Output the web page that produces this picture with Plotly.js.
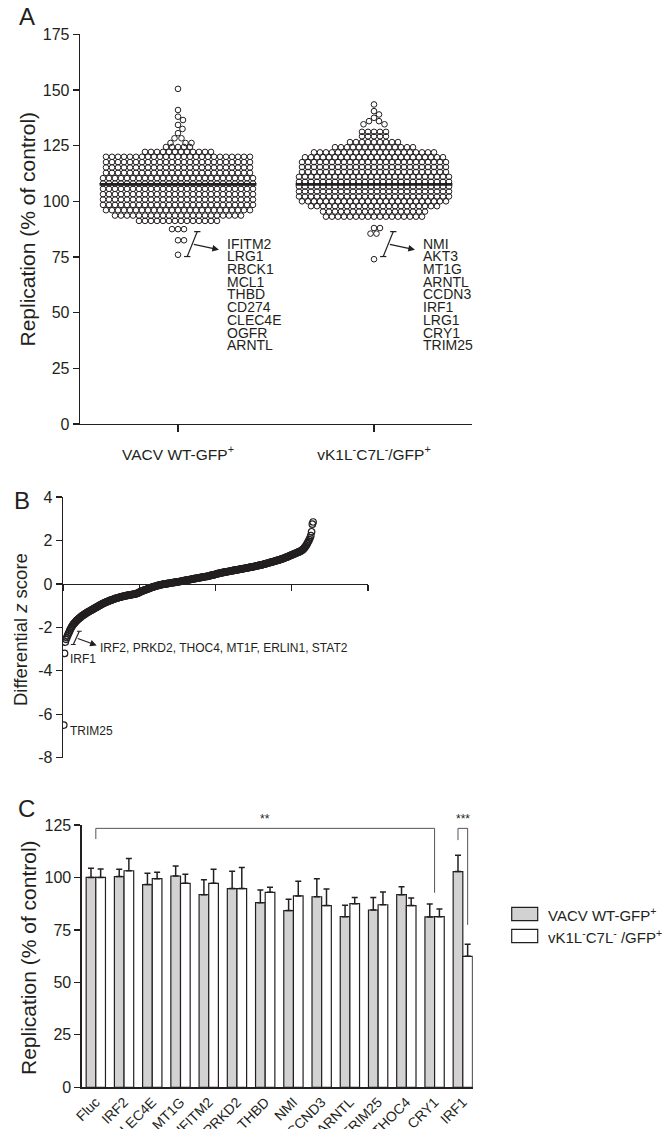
<!DOCTYPE html>
<html><head><meta charset="utf-8">
<script src="https://cdn.plot.ly/plotly-3.0.1.min.js"></script>
<style>html,body{margin:0;padding:0;background:#fff}#chart{width:668px;height:1129px}</style>
</head><body><div id="chart"></div>
<script>
const W = 668, H = 1129;
const FONT = 'Liberation Sans, Arial, Helvetica, sans-serif';
const INK = '#231f20';

// ---------- Panel A data ----------
const groupLabels = ['VACV WT-GFP<sup>+</sup>', 'vK1L<sup>-</sup>C7L<sup>-</sup>/GFP<sup>+</sup>'];
const wtRowValues = [150.5,141,138,136.5,134.3,132.5,130.6,128.3,126.2,124.4,122.2,120,117.6,115.2,112.8,110.4,108,105.6,103.2,100.8,98.4,96,93.6,91.2,87.5,82.5,76];
const wtRowCounts = [1,1,1,1,1,1,1,2,3,5,12,25,25,25,25,26,26,26,26,26,26,25,22,14,3,2,1];
const koRowValues = [143.5,140.5,139,137.5,136,134.6,131.2,129.2,126.6,124.3,122,119.8,117.6,115.4,113.2,111,108.8,106.6,104.4,102.2,100,97.8,95.4,93.1,88,85.5,74];
const koRowCounts = [1,1,1,1,2,2,5,5,9,14,21,24,25,25,25,26,26,26,26,26,25,22,18,17,2,2,1];
const groupMeans = [107.6, 107.6];
const wtHits = ['IFITM2','LRG1','RBCK1','MCL1','THBD','CD274','CLEC4E','OGFR','ARNTL'];
const koHits = ['NMI','AKT3','MT1G','ARNTL','CCDN3','IRF1','LRG1','CRY1','TRIM25'];

// ---------- Panel B data ----------
const zScores = [
-6.50,-3.20,-2.68,-2.55,-2.47,-2.38,-2.30,-2.22,-2.14,-2.07,
-2.00,-1.94,-1.89,-1.84,-1.80,-1.76,-1.72,-1.68,-1.65,-1.62,
-1.59,-1.56,-1.53,-1.50,-1.47,-1.45,-1.42,-1.40,-1.38,-1.35,
-1.33,-1.31,-1.29,-1.27,-1.25,-1.23,-1.21,-1.19,-1.17,-1.15,
-1.13,-1.11,-1.09,-1.07,-1.05,-1.03,-1.01,-0.99,-0.97,-0.95,
-0.93,-0.91,-0.90,-0.88,-0.86,-0.85,-0.83,-0.82,-0.80,-0.79,
-0.77,-0.76,-0.75,-0.73,-0.72,-0.71,-0.70,-0.68,-0.67,-0.66,
-0.65,-0.64,-0.63,-0.62,-0.61,-0.60,-0.59,-0.58,-0.57,-0.56,
-0.56,-0.55,-0.54,-0.53,-0.53,-0.52,-0.51,-0.51,-0.50,-0.49,
-0.49,-0.48,-0.47,-0.47,-0.46,-0.45,-0.44,-0.43,-0.41,-0.39,
-0.37,-0.36,-0.34,-0.33,-0.31,-0.30,-0.29,-0.27,-0.26,-0.25,
-0.23,-0.22,-0.21,-0.19,-0.18,-0.17,-0.15,-0.14,-0.13,-0.12,
-0.11,-0.10,-0.09,-0.08,-0.07,-0.06,-0.05,-0.04,-0.03,-0.03,
-0.02,-0.01,-0.01,0.00,0.00,0.01,0.01,0.02,0.03,0.03,
0.04,0.04,0.05,0.06,0.06,0.07,0.07,0.08,0.09,0.09,
0.10,0.10,0.11,0.12,0.12,0.13,0.14,0.14,0.15,0.16,
0.16,0.17,0.18,0.18,0.19,0.20,0.20,0.21,0.22,0.22,
0.23,0.24,0.24,0.25,0.26,0.26,0.27,0.28,0.28,0.29,
0.30,0.30,0.31,0.32,0.32,0.33,0.34,0.34,0.35,0.35,
0.36,0.37,0.38,0.39,0.40,0.41,0.41,0.42,0.43,0.44,
0.45,0.46,0.47,0.48,0.49,0.50,0.50,0.51,0.52,0.53,
0.53,0.54,0.55,0.55,0.56,0.57,0.57,0.58,0.59,0.59,
0.60,0.61,0.61,0.62,0.63,0.63,0.64,0.65,0.65,0.66,
0.67,0.67,0.68,0.69,0.69,0.70,0.71,0.71,0.72,0.73,
0.73,0.74,0.75,0.75,0.76,0.77,0.77,0.78,0.79,0.80,
0.80,0.81,0.82,0.83,0.83,0.84,0.85,0.86,0.87,0.87,
0.88,0.89,0.90,0.91,0.92,0.93,0.94,0.95,0.96,0.97,
0.98,0.99,1.00,1.01,1.02,1.03,1.04,1.05,1.06,1.07,
1.08,1.09,1.10,1.11,1.12,1.14,1.15,1.16,1.17,1.19,
1.20,1.21,1.23,1.24,1.26,1.27,1.29,1.30,1.32,1.33,
1.35,1.36,1.38,1.39,1.41,1.42,1.44,1.45,1.47,1.48,
1.50,1.52,1.54,1.57,1.60,1.64,1.68,1.73,1.78,1.84,
1.90,1.97,2.04,2.12,2.22,2.40,2.75,2.85
];
const bPointLabels = [{rank: 1, text: 'TRIM25'}, {rank: 2, text: 'IRF1'}];
const bHitsText = 'IRF2, PRKD2, THOC4, MT1F, ERLIN1, STAT2';
const bXTicks = [0, 100, 200, 300, 400];
const bYTicks = [-8, -6, -4, -2, 0, 2, 4];

// ---------- Panel C data ----------
const genes = ['Fluc','IRF2','CLEC4E','MT1G','IFITM2','PRKD2','THBD','NMI','CCND3','ARNTL','TRIM25','THOC4','CRY1','IRF1'];
const wtRep = [100, 100.4, 96.6, 100.7, 91.8, 94.7, 88.0, 84.2, 90.8, 81.3, 84.5, 91.8, 81.2, 102.8];
const wtSD  = [4.4, 3.5, 5.4, 4.8, 7.1, 8.2, 6.0, 5.4, 8.6, 5.4, 5.9, 3.8, 6.2, 7.8];
const koRep = [100, 103.2, 99.4, 97.2, 97.2, 94.7, 92.9, 91.2, 86.6, 87.5, 87.0, 86.6, 81.3, 62.4];
const koSD  = [4.0, 5.8, 3.1, 4.3, 6.7, 10.0, 2.4, 7.0, 7.9, 3.0, 6.1, 3.6, 3.7, 5.8];
const legendNames = ['VACV WT-GFP<sup>+</sup>', 'vK1L<sup>-</sup>C7L<sup>-</sup> /GFP<sup>+</sup>'];
const sigBrackets = [
  {from: 'Fluc', to: 'CRY1', fromOffset: 0, toOffset: 0, top: 123.4, leg0: 118.3, leg1: 92.7, label: '**'},
  {from: 'IRF1', to: 'IRF1', fromOffset: -0.171, toOffset: 0.171, top: 123.4, leg0: 117.8, leg1: 77.4, label: '***'}
];

// ---------- helpers ----------
const px = v => v / W;
const py = v => 1 - v / H;
const domA = {x: [80, 472], y: [34.3, 424]};
const domB = {x: [63, 368], y: [497, 757.7]};
const domC = {x: [81.7, 472.7], y: [825, 1087.3]};

const axBase = {
  showline: true, linecolor: INK, linewidth: 1.3,
  ticks: 'outside', ticklen: 6, tickwidth: 1.3, tickcolor: INK,
  showgrid: false, zeroline: false,
  tickfont: {family: FONT, size: 16, color: INK}
};

// column-scatter layout: dense rows are laid side by side, sparse rows
// are nudged sideways so they do not overlap points already placed
const unitPxAx = (domA.x[1] - domA.x[0]) / 2;
const unitPxAy = (domA.y[1] - domA.y[0]) / 175;
function columnScatter(rowVals, rowCounts, center, diam) {
  const placed = [], xs = [], ys = [];
  rowVals.forEach((v, i) => {
    const n = rowCounts[i];
    const yPx = v * unitPxAy;
    for (let j = 0; j < n; j++) {
      let off;
      if (n > 3) {
        off = (j - (n - 1) / 2) * diam;
      } else {
        off = 0;
        for (let k = 0; k < 400; k++) {
          const cand = (k % 2 ? 1 : -1) * Math.ceil(k / 2) * 0.5;
          let hit = false;
          for (const p of placed) {
            const dy = p.y - yPx;
            if (Math.abs(dy) >= diam) continue;
            const dx = p.x - cand;
            if (dx * dx + dy * dy < diam * diam) { hit = true; break; }
          }
          if (!hit) { off = cand; break; }
        }
      }
      placed.push({x: off, y: yPx});
      xs.push(center + off / unitPxAx);
      ys.push(v);
    }
  });
  return {xs, ys};
}
const sw0 = columnScatter(wtRowValues, wtRowCounts, 0, 6);
const sw1 = columnScatter(koRowValues, koRowCounts, 1, 6);

const markA = {symbol: 'circle-open', size: 5.6, color: INK, line: {width: 1}};
const traces = [
  {type: 'scatter', mode: 'markers', x: sw0.xs, y: sw0.ys, xaxis: 'x', yaxis: 'y', marker: markA, hoverinfo: 'y'},
  {type: 'scatter', mode: 'markers', x: sw1.xs, y: sw1.ys, xaxis: 'x', yaxis: 'y', marker: markA, hoverinfo: 'y'},
];
groupMeans.forEach((m, i) => traces.push({
  type: 'scatter', mode: 'lines', x: [i - 0.4, i + 0.4], y: [m, m], xaxis: 'x', yaxis: 'y',
  line: {color: INK, width: 2.6}, hoverinfo: 'skip'
}));

// Panel B
traces.push({
  type: 'scatter', mode: 'markers', x: zScores.map((_, i) => i + 1), y: zScores,
  xaxis: 'x2', yaxis: 'y2',
  marker: {symbol: 'circle-open', size: 6.5, color: INK, line: {width: 1.2}}
});

// Panel C
const errStyle = {color: INK, thickness: 1.5, width: 3};
traces.push({
  type: 'bar', name: legendNames[0], x: genes, y: wtRep, xaxis: 'x3', yaxis: 'y3',
  marker: {color: '#d2d2d2', line: {color: INK, width: 1.2}},
  error_y: Object.assign({type: 'data', symmetric: false, array: wtSD, arrayminus: wtSD.map(() => 0)}, errStyle)
});
traces.push({
  type: 'bar', name: legendNames[1], x: genes, y: koRep, xaxis: 'x3', yaxis: 'y3',
  marker: {color: '#ffffff', line: {color: INK, width: 1.2}},
  error_y: Object.assign({type: 'data', symmetric: false, array: koSD, arrayminus: koSD.map(() => 0)}, errStyle)
});

// y position of zero line in panel B (paper)
const yDomB = [py(domB.y[1]), py(domB.y[0])];
const zeroPosB = yDomB[0] + (0 - (-8)) / (4 - (-8)) * (yDomB[1] - yDomB[0]);

const shapes = [];
const annotations = [];
const lineStyle = {color: INK, width: 1.2};

// Panel A annotations
[[0, wtHits], [1, koHits]].forEach(([c, hits]) => {
  const t = {x: c + 0.0985, y: 86.4}, b = {x: c + 0.047, y: 75.2};
  shapes.push({type: 'line', xref: 'x', yref: 'y', x0: t.x, y0: t.y, x1: b.x, y1: b.y, line: lineStyle});
  shapes.push({type: 'line', xref: 'x', yref: 'y', x0: t.x - 0.016, y0: t.y, x1: t.x + 0.016, y1: t.y, line: lineStyle});
  shapes.push({type: 'line', xref: 'x', yref: 'y', x0: b.x - 0.016, y0: b.y, x1: b.x + 0.016, y1: b.y, line: lineStyle});
  annotations.push({xref: 'x', yref: 'y', axref: 'x', ayref: 'y', x: c + 0.209, y: 78.3, ax: c + 0.073, ay: 80.8,
    text: '', showarrow: true, arrowhead: 2, arrowsize: 1.1, arrowwidth: 1.2, arrowcolor: INK});
  hits.forEach((g, i) => annotations.push({
    xref: 'x', yref: 'y', x: c + 0.24, y: 81.0, yshift: -i * 12.7, xanchor: 'left', yanchor: 'middle',
    text: g, showarrow: false, font: {family: FONT, size: 14, color: INK}
  }));
});

// Panel B annotations
shapes.push({type: 'line', xref: 'x2', yref: 'y2', x0: 21.4, y0: -2.18, x1: 13.5, y1: -2.79, line: lineStyle});
shapes.push({type: 'line', xref: 'x2', yref: 'y2', x0: 18.2, y0: -2.18, x1: 24.6, y1: -2.18, line: lineStyle});
shapes.push({type: 'line', xref: 'x2', yref: 'y2', x0: 10.3, y0: -2.79, x1: 16.7, y1: -2.79, line: lineStyle});
annotations.push({xref: 'x2', yref: 'y2', axref: 'x2', ayref: 'y2', x: 44.2, y: -2.83, ax: 17.4, ay: -2.49,
  text: '', showarrow: true, arrowhead: 2, arrowsize: 1.1, arrowwidth: 1.2, arrowcolor: INK});
annotations.push({xref: 'x2', yref: 'y2', x: 46.5, y: -2.93, xanchor: 'left', yanchor: 'middle', showarrow: false,
  text: bHitsText, font: {family: FONT, size: 12, color: INK}});
bPointLabels.forEach(p => annotations.push({
  xref: 'x2', yref: 'y2', x: p.rank + 5, y: zScores[p.rank - 1], yshift: -6, xanchor: 'left', yanchor: 'middle',
  showarrow: false, text: p.text, font: {family: FONT, size: 12, color: INK}
}));

// Panel C significance brackets
const bracketLine = {color: '#555', width: 1};
sigBrackets.forEach(s => {
  const x0 = genes.indexOf(s.from) + s.fromOffset, x1 = genes.indexOf(s.to) + s.toOffset;
  shapes.push({type: 'path', xref: 'x3', yref: 'y3',
    path: `M${x0},${s.leg0} L${x0},${s.top} L${x1},${s.top} L${x1},${s.leg1}`, line: bracketLine});
  annotations.push({xref: 'x3', yref: 'y3', x: (x0 + x1) / 2, y: s.top, yanchor: 'bottom', showarrow: false,
    text: s.label, font: {family: FONT, size: 12, color: INK}});
});

// Panel C legend (drawn manually)
const legFills = ['#d2d2d2', '#ffffff'];
legendNames.forEach((n, i) => {
  const top = 907.3 + i * 22;
  shapes.push({type: 'rect', xref: 'paper', yref: 'paper', x0: px(511.7), x1: px(537.7), y0: py(top + 13.4), y1: py(top),
    fillcolor: legFills[i], line: {color: INK, width: 1.2}});
  annotations.push({xref: 'paper', yref: 'paper', x: px(546), y: py(top + 6.7), xanchor: 'left', yanchor: 'middle',
    showarrow: false, text: n, font: {family: FONT, size: 15, color: INK}});
});

// Panel letters and y titles
[['A', 17, 16], ['B', 12, 500], ['C', 16, 808]].forEach(([t, x, y]) => annotations.push({
  xref: 'paper', yref: 'paper', x: px(x), y: py(y), xanchor: 'left', yanchor: 'middle', showarrow: false,
  text: t, font: {family: FONT, size: 24, color: INK}
}));
[['Replication (% of control)', 26.5, 229, 21], ['Differential <i>z</i> score', 20, 630, 18.5], ['Replication (% of control)', 28, 958, 21]]
  .forEach(([t, x, y, s]) => annotations.push({
    xref: 'paper', yref: 'paper', x: px(x), y: py(y), xanchor: 'center', yanchor: 'middle', showarrow: false,
    textangle: -90, text: t, font: {family: FONT, size: s, color: INK}
  }));

const layout = {
  width: W, height: H, margin: {l: 0, r: 0, t: 0, b: 0},
  paper_bgcolor: '#fff', plot_bgcolor: 'rgba(0,0,0,0)', showlegend: false,
  barmode: 'group', bargap: 0.316, bargroupgap: 0,
  font: {family: FONT, color: INK},
  xaxis: Object.assign({}, axBase, {
    domain: [px(domA.x[0]), px(domA.x[1])], range: [-0.5, 1.5], anchor: 'y',
    tickvals: [0, 1], ticktext: groupLabels, ticklen: 7, ticklabelstandoff: 9,
    tickfont: {family: FONT, size: 15.5, color: INK}
  }),
  yaxis: Object.assign({}, axBase, {
    domain: [py(domA.y[1]), py(domA.y[0])], range: [0, 175], tick0: 0, dtick: 25, anchor: 'x'
  }),
  xaxis2: Object.assign({}, axBase, {
    domain: [px(domB.x[0]), px(domB.x[1])], range: [0, 400], anchor: 'free', position: zeroPosB,
    tickvals: bXTicks, showticklabels: false
  }),
  yaxis2: Object.assign({}, axBase, {
    domain: yDomB, range: [-8, 4], anchor: 'x2',
    tickvals: bYTicks, ticktext: bYTicks.map(v => String(v))
  }),
  xaxis3: Object.assign({}, axBase, {
    domain: [px(domC.x[0]), px(domC.x[1])], range: [-0.5, 13.35], anchor: 'y3', type: 'category',
    ticks: '', tickangle: -45, tickfont: {family: FONT, size: 14, color: INK}
  }),
  yaxis3: Object.assign({}, axBase, {
    domain: [py(domC.y[1]), py(domC.y[0])], range: [0, 125], tick0: 0, dtick: 25, anchor: 'x3'
  }),
  shapes: shapes,
  annotations: annotations
};

Plotly.newPlot('chart', traces, layout, {displayModeBar: false, staticPlot: true});
</script>
</body></html>
